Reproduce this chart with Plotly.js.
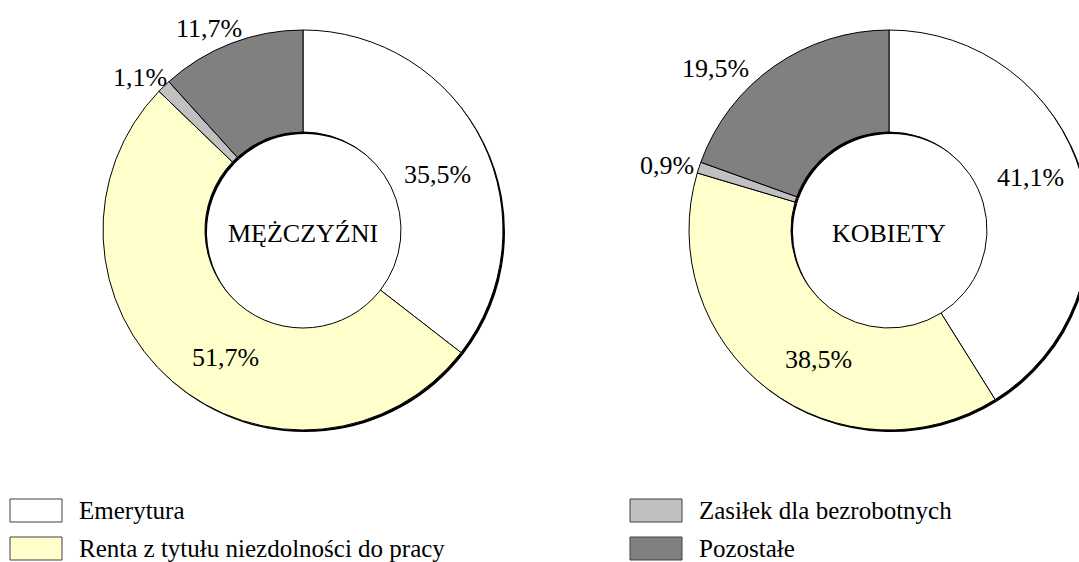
<!DOCTYPE html>
<html>
<head>
<meta charset="utf-8">
<script src="https://cdn.plot.ly/plotly-3.0.1.min.js"></script>
<style>
  html, body { margin: 0; padding: 0; background: #ffffff; }
  body { position: relative; width: 1079px; height: 562px; overflow: hidden; }
  #preload { position: absolute; left: 300px; top: 220px; z-index: 0; font-family: 'Liberation Serif'; font-size: 25px; color: #ffffff; white-space: nowrap; }
  #chart { position: absolute; left: 0; top: 0; z-index: 1; width: 1100px; height: 562px; }
  #chart text { font-family: 'Liberation Serif' !important; }
</style>
</head>
<body>
<div id="preload">MĘŻCZYŹNI KOBIETY Emerytura Renta Zasiłek Pozostałe 0123456789,%</div>
<div id="chart"></div>
<script>
// ---- data ----
const categories = ['Emerytura', 'Renta z tytułu niezdolności do pracy', 'Zasiłek dla bezrobotnych', 'Pozostałe'];
const menValues = [35.5, 51.7, 1.1, 11.7];
const womenValues = [41.1, 38.5, 0.9, 19.5];
const groupNames = ['MĘŻCZYŹNI', 'KOBIETY'];

// ---- style ----
const W = 1100, H = 562;
const FONT = 'Liberation Serif';
const sliceColors = ['#FFFFFF', '#FFFFCC', '#C0C0C0', '#808080'];
const pies = [
  { values: menValues, name: groupNames[0], cx: 303, cy: 230, r: 200,
    labelR: [148, 148, 225, 225],
    labelOff: [[2, 10], [19, 16], [-6, 9], [-13, 8]] },
  { values: womenValues, name: groupNames[1], cx: 889, cy: 230, r: 200,
    labelR: [148, 148, 225, 225],
    labelOff: [[-1, -12], [19, 12], [-8, 6], [-44, 23]] }
];
const legendPos = [[10, 499], [10, 537], [630, 499], [630, 537]];
const boxW = 52, boxH = 23;

const px = x => x / W;
const py = y => 1 - y / H;

const traces = [];
const annotations = [];
const shapes = [];

pies.forEach(p => {
  const dom = (dx, dy) => ({
    x: [px(p.cx - p.r + dx), px(p.cx + p.r + dx)],
    y: [py(p.cy + p.r + dy), py(p.cy - p.r + dy)]
  });
  // shadow
  traces.push({
    type: 'pie', values: p.values, labels: categories, sort: false,
    direction: 'clockwise', rotation: 0, hole: 0.49,
    domain: dom(2, 2), textinfo: 'none', hoverinfo: 'skip',
    marker: { colors: categories.map(() => '#000000'), line: { width: 0 } },
    showlegend: false
  });
  traces.push({
    type: 'pie', values: p.values, labels: categories, sort: false,
    direction: 'clockwise', rotation: 0, hole: 0.49,
    domain: dom(0, 0), textinfo: 'none', hoverinfo: 'label+value',
    marker: { colors: sliceColors, line: { color: '#000000', width: 1 } },
    title: { text: p.name, position: 'middle center', font: { family: FONT, size: 26, color: '#000000' } },
    showlegend: false
  });
  const total = p.values.reduce((a, b) => a + b, 0);
  let cum = 0;
  p.values.forEach((v, i) => {
    const mid = (cum + v / 2) / total * 2 * Math.PI;
    cum += v;
    const x = p.cx + p.labelR[i] * Math.sin(mid) + p.labelOff[i][0];
    const y = p.cy - p.labelR[i] * Math.cos(mid) + p.labelOff[i][1];
    annotations.push({
      xref: 'paper', yref: 'paper', x: px(x), y: py(y),
      xanchor: 'center', yanchor: 'middle', showarrow: false,
      text: v.toFixed(1).replace('.', ',') + '%',
      font: { family: FONT, size: 26, color: '#000000' }
    });
  });
});

categories.forEach((c, i) => {
  const [lx, ly] = legendPos[i];
  shapes.push({
    type: 'rect', xref: 'paper', yref: 'paper',
    x0: px(lx), x1: px(lx + boxW), y0: py(ly + boxH), y1: py(ly),
    fillcolor: sliceColors[i], line: { color: '#404040', width: 1 }
  });
  annotations.push({
    xref: 'paper', yref: 'paper', x: px(lx + boxW + 15), y: py(ly + boxH / 2),
    xanchor: 'left', yanchor: 'middle', showarrow: false, text: c,
    font: { family: FONT, size: 25, color: '#000000' }
  });
});

function fixFonts() {
  document.querySelectorAll('#chart text').forEach(t => {
    t.style.setProperty('font-family', 'Liberation Serif', 'important');
  });
}

function draw() {
  return Plotly.newPlot('chart', traces, {
    width: W, height: H,
    margin: { l: 0, r: 0, t: 0, b: 0 },
    paper_bgcolor: '#ffffff', plot_bgcolor: '#ffffff',
    showlegend: false,
    annotations: annotations,
    shapes: shapes
  }, { displayModeBar: false, staticPlot: true }).then(fixFonts);
}

draw();
if (document.fonts && document.fonts.load) {
  document.fonts.load('25px "Liberation Serif"').then(() => draw()).catch(() => {});
}
</script>
</body>
</html>
